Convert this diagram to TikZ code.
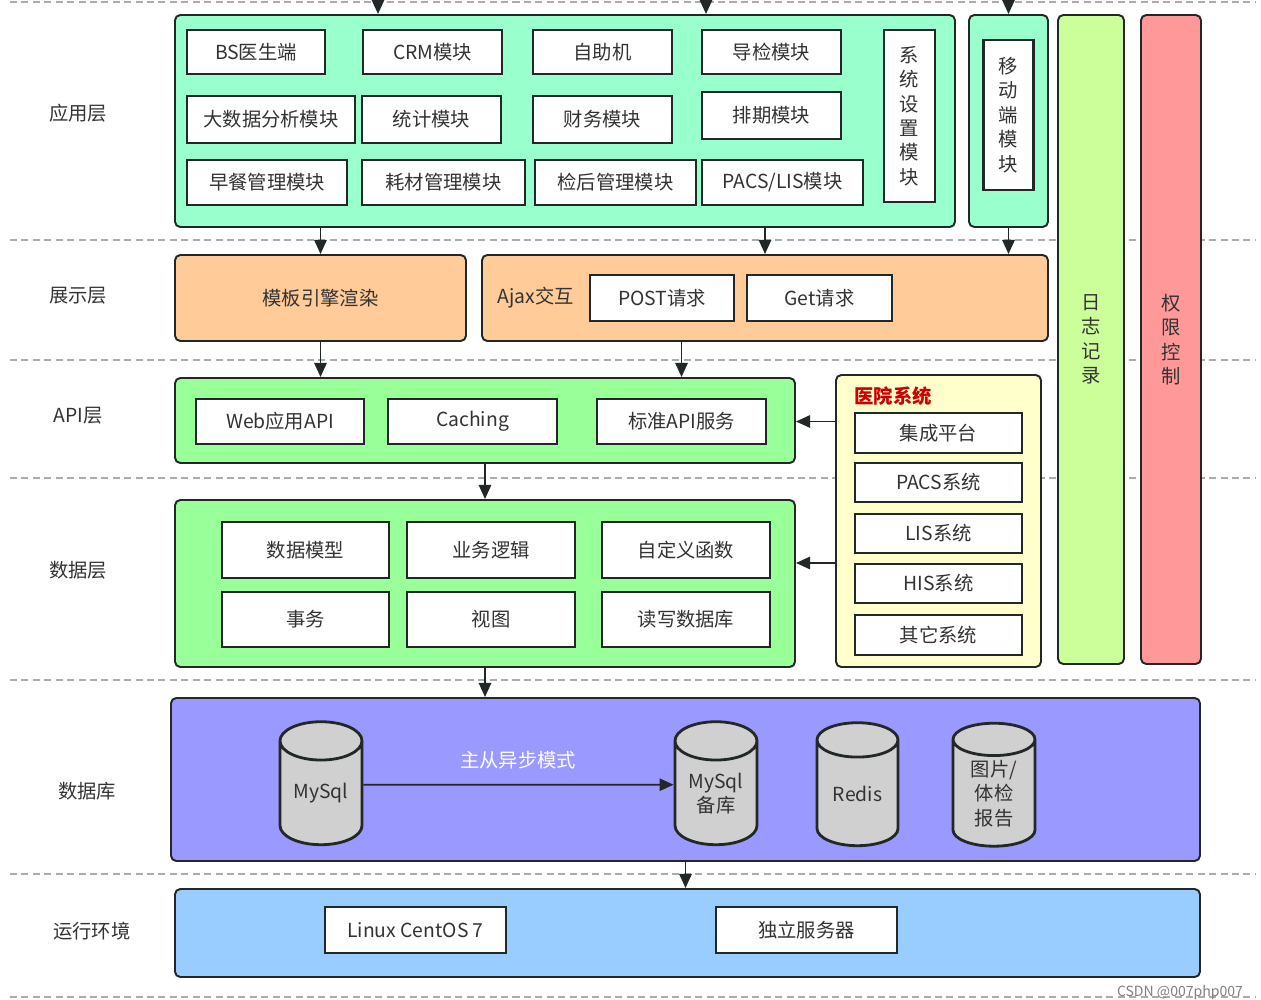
\documentclass[tikz,border=0pt]{standalone}
\usepackage{fontspec}
\setmainfont{Noto Sans CJK SC}
\definecolor{linedark}{RGB}{34,40,40}
\definecolor{textgray}{RGB}{51,51,51}
\definecolor{appgreen}{RGB}{153,255,204}
\definecolor{showorange}{RGB}{255,204,153}
\definecolor{apigreen}{RGB}{153,255,153}
\definecolor{hospyellow}{RGB}{255,255,204}
\definecolor{loggreen}{RGB}{204,255,153}
\definecolor{permred}{RGB}{255,153,153}
\definecolor{dbblue}{RGB}{153,153,255}
\definecolor{runblue}{RGB}{153,204,255}
\definecolor{cylgray}{RGB}{208,208,208}
\definecolor{titlered}{RGB}{204,0,0}
\usepackage{tikz}
\usetikzlibrary{arrows.meta, shapes.geometric}

\begin{document}
\begin{tikzpicture}[x=0.02cm, y=-0.02cm, font=\fontsize{11}{13.9}\selectfont,
  wh/.style 2 args={minimum width=#1*0.02cm, minimum height=#2*0.02cm},
  layerbox/.style={draw=linedark, line width=1.1pt, rounded corners=3pt, inner sep=0pt},
  modbox/.style={draw=linedark, fill=white, line width=1.6pt, inner sep=0pt, text=textgray},
  vtext/.style={align=center, text=textgray},
  lbl/.style={text=textgray},
  dbcyl/.style={cylinder, shape border rotate=90, aspect=0.7, draw=linedark, fill=cylgray,
    line width=1.6pt, inner sep=0pt, align=center, text=textgray},
  arr/.style={-{Triangle[length=8pt,width=7pt]}, line width=1.1pt, draw=linedark},
  sepline/.style={draw=gray!65, line width=0.6pt, dash pattern=on 4pt off 2.5pt}]
  \useasboundingbox (0,0) rectangle (1261,1000);

  % separators
  \foreach \yy in {2,240,360,478,680,874,997}
    \draw[sepline] (10,\yy) -- (1255,\yy);

  % layer names
  \node[lbl] (l1) at (78,113) {应用层};
  \node[lbl] (l2) at (78,296) {展示层};
  \node[lbl] (l3) at (78,416) {API层};
  \node[lbl] (l4) at (78,570) {数据层};
  \node[lbl] (l5) at (87,791) {数据库};
  \node[lbl] (l6) at (92,931) {运行环境};

  % application layer
  \node[layerbox, fill=appgreen, wh={780}{212}] (app) at (565,121) {};
  \node[modbox, wh={138}{44}] (bs) at (256,52) {BS医生端};
  \node[modbox, wh={139}{44}] (crm) at (432.5,52) {CRM模块};
  \node[modbox, wh={139}{44}] (zzj) at (602.5,52) {自助机};
  \node[modbox, wh={139}{44}] (dj) at (771.5,52) {导检模块};
  \node[modbox, wh={168}{47}] (dsj) at (271,119.5) {大数据分析模块};
  \node[modbox, wh={139}{47}] (tj) at (431.5,119.5) {统计模块};
  \node[modbox, wh={139}{47}] (cw) at (602.5,119.5) {财务模块};
  \node[modbox, wh={139}{47}] (pq) at (771.5,115.5) {排期模块};
  \node[modbox, wh={160}{45}] (zc) at (267,182.5) {早餐管理模块};
  \node[modbox, wh={163}{45}] (hc) at (443.5,182.5) {耗材管理模块};
  \node[modbox, wh={161}{45}] (jh) at (615.5,182.5) {检后管理模块};
  \node[modbox, wh={161}{45}] (pacs) at (782.5,182.5) {PACS/LIS模块};
  \node[modbox, wh={51}{172}, align=center] (xt) at (909.5,116) {系\\统\\设\\置\\模\\块};

  % mobile
  \node[layerbox, fill=appgreen, wh={79}{212}] (mob) at (1008.5,121) {};
  \node[modbox, wh={50}{150}, align=center] (ydd) at (1008.5,115) {移\\动\\端\\模\\块};

  % log and permission
  \node[layerbox, fill=loggreen, wh={66}{649}, vtext] (log) at (1091,339.5) {日\\志\\记\\录};
  \node[layerbox, fill=permred, wh={60}{649}, vtext] (perm) at (1171,339.5) {权\\限\\控\\制};

  % presentation layer
  \node[layerbox, fill=showorange, wh={291}{86}, text=textgray] (tpl) at (320.5,298) {模板引擎渲染};
  \node[layerbox, fill=showorange, wh={566}{86}] (ajax) at (765,298) {};
  \node[lbl] (ajaxlbl) at (536,298) {Ajax交互};
  \node[modbox, wh={144}{46}] (post) at (662,298) {POST请求};
  \node[modbox, wh={145}{46}] (get) at (819.5,298) {Get请求};

  % API layer
  \node[layerbox, fill=apigreen, wh={620}{85}] (api) at (485,420.5) {};
  \node[modbox, wh={168}{45}] (webapi) at (280,421.5) {Web应用API};
  \node[modbox, wh={169}{45}] (cache) at (472.5,421.5) {Caching};
  \node[modbox, wh={169}{45}] (std) at (681.5,421.5) {标准API服务};

  % data layer
  \node[layerbox, fill=apigreen, wh={620}{167}] (data) at (485,583.5) {};
  \node[modbox, wh={167}{56}] (sjmx) at (305.5,550) {数据模型};
  \node[modbox, wh={168}{56}] (ywlj) at (491,550) {业务逻辑};
  \node[modbox, wh={168}{56}] (zdy) at (686,550) {自定义函数};
  \node[modbox, wh={167}{55}] (sw) at (305.5,619.5) {事务};
  \node[modbox, wh={168}{55}] (st) at (491,619.5) {视图};
  \node[modbox, wh={168}{55}] (dxsjk) at (686,619.5) {读写数据库};

  % hospital systems
  \node[layerbox, fill=hospyellow, wh={205}{292}] (hosp) at (938.5,521) {};
  \node[text=titlered, font=\fontsize{11}{13.9}\selectfont\bfseries] (hosptitle) at (893,396) {医院系统};
  \node[modbox, wh={167}{40}] (jc) at (938.5,433) {集成平台};
  \node[modbox, wh={167}{39}] (pacss) at (938.5,482.5) {PACS系统};
  \node[modbox, wh={167}{39}] (lis) at (938.5,533.5) {LIS系统};
  \node[modbox, wh={167}{39}] (his) at (938.5,583.5) {HIS系统};
  \node[modbox, wh={167}{40}] (qt) at (938.5,635) {其它系统};

  % database layer
  \node[layerbox, fill=dbblue, wh={1029}{163}] (db) at (685.5,779.5) {};
  \node[dbcyl, wh={82}{123}] (mysql) at (321,793.5) {MySql};
  \node[dbcyl, wh={82}{123}] (bk) at (716,793.5) {MySql\\备库};
  \node[dbcyl, wh={81}{123}] (redis) at (857.5,793.5) {Redis};
  \node[dbcyl, wh={82}{123}] (img) at (994,793.5) {图片/\\体检\\报告};
  \node[text=white] (sync) at (518,760) {主从异步模式};

  % runtime
  \node[layerbox, fill=runblue, wh={1025}{88}] (run) at (687.5,933) {};
  \node[modbox, wh={181}{46}] (linux) at (415.5,930) {Linux CentOS 7};
  \node[modbox, wh={181}{46}] (dl) at (806.5,930) {独立服务器};

  \node[text=gray, font=\fontsize{8}{9}\selectfont] (mark) at (1180,993) {CSDN @007php007};

  % arrows
  \coordinate (in1) at (378,0);
  \coordinate (in2) at (706,0);
  \coordinate (in3) at (1008.5,0);
  \draw[arr] (in1) -- (in1 |- app.north);
  \draw[arr] (in2) -- (in2 |- app.north);
  \draw[arr] (in3) -- (mob.north);
  \draw[arr] (tpl.north |- app.south) -- (tpl.north);
  \draw[arr] (ajax.north |- app.south) -- (ajax.north);
  \draw[arr] (mob.south) -- (mob.south |- ajax.north);
  \draw[arr] (tpl.south) -- (tpl.south |- api.north);
  \draw[arr] (std.north |- ajax.south) -- (std.north |- api.north);
  \draw[arr] (api.south) -- (data.north);
  \draw[arr] (hosp.west |- std.east) -- (api.east |- std.east);
  \coordinate (hd) at (836,563);
  \draw[arr] (hd) -- (hd -| data.east);
  \draw[arr] (data.south) -- (data.south |- db.north);
  \draw[arr] ([yshift=5pt]mysql.east) -- ([yshift=5pt]bk.west);
  \draw[arr] (db.south) -- (db.south |- run.north);
\end{tikzpicture}
\end{document}
